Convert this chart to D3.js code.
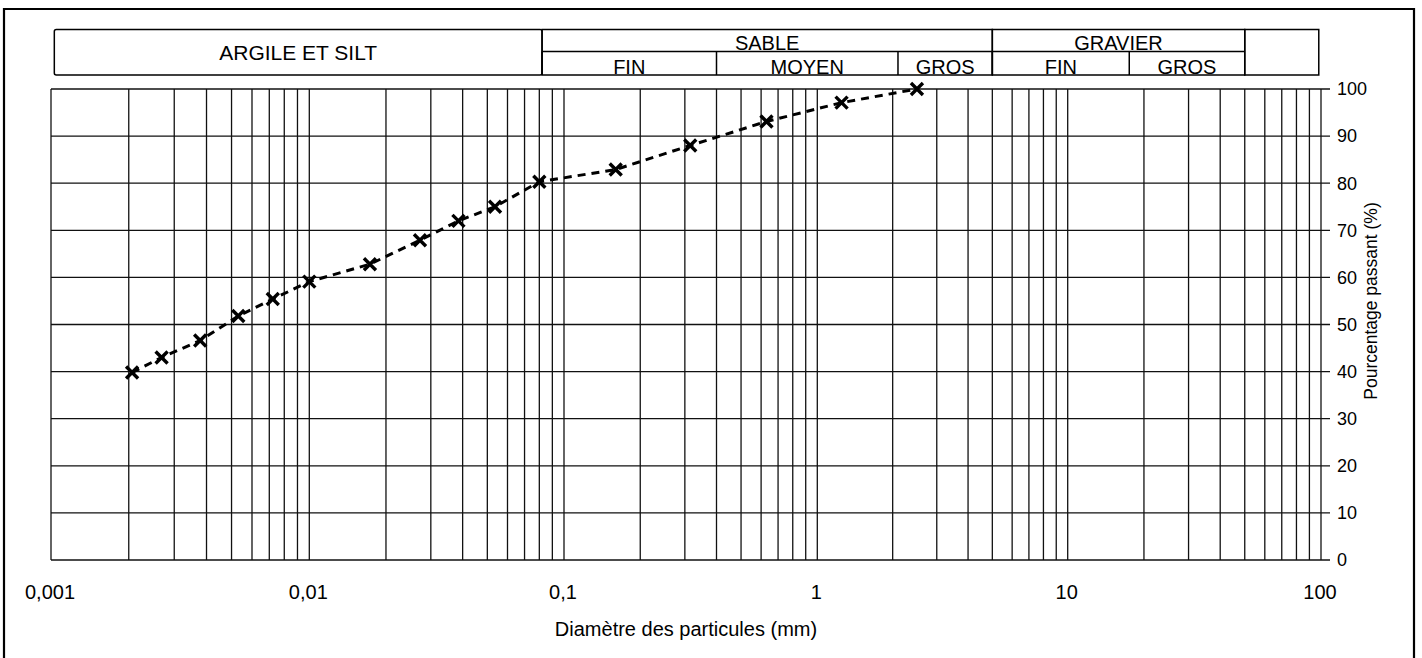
<!DOCTYPE html>
<html>
<head>
<meta charset="utf-8">
<script src="https://cdn.jsdelivr.net/npm/d3@7"></script>
<style>
  html, body { margin: 0; padding: 0; background: #fff; }
  svg { display: block; font-family: "Liberation Sans", Arial, Helvetica, sans-serif; }
</style>
</head>
<body>
<svg id="chart" width="1422" height="658"></svg>
<script>
// ---------- data ----------
const diameters = [0.00206, 0.00268, 0.00378, 0.00531, 0.00722, 0.0100, 0.0173, 0.0272, 0.0385, 0.0536, 0.080, 0.160, 0.315, 0.630, 1.25, 2.5];
const passing   = [39.8, 43.0, 46.6, 51.8, 55.4, 59.1, 62.8, 67.9, 72.0, 75.0, 80.3, 82.9, 88.0, 93.1, 97.1, 100];

const xTickValues = [0.001, 0.01, 0.1, 1, 10, 100];
const xTickLabels = ["0,001", "0,01", "0,1", "1", "10", "100"];
const yTickValues = [0, 10, 20, 30, 40, 50, 60, 70, 80, 90, 100];

const mainClasses = ["ARGILE ET SILT", "SABLE", "GRAVIER", ""];
const mainBounds  = [0.00103, 0.082, 5, 50, 98];
const subClasses  = ["FIN", "MOYEN", "GROS", "FIN", "GROS"];
const subBounds   = [0.082, 0.4, 2.1, 5, 17.5, 50];

const xTitle = "Diamètre des particules (mm)";
const yTitle = "Pourcentage passant (%)";

// ---------- layout ----------
const svg = d3.select("#chart");
const plotTop = 89, plotBottom = 560;
// per-decade positions (log scale, piecewise to follow the sheet)
const x = d3.scaleLog().domain(xTickValues).range([51, 309.3, 564, 817.3, 1067.7, 1321]);
const y = d3.scaleLinear().domain([0, 100]).range([plotBottom, plotTop]);
const xLeft = x(0.001), xRight = x(100);

// outer page frame
svg.append("path")
  .attr("d", `M4,660 L4,9 L1414,9 L1414,660`)
  .attr("fill", "none").attr("stroke", "#000").attr("stroke-width", 2.2);

// ---------- header table ----------
const hTop = 29.5, hMid = 51.5, hBot = 75;
const hdr = svg.append("g").attr("stroke", "#000").attr("fill", "none");
mainClasses.forEach((c, i) => {
  const x0 = x(mainBounds[i]), x1 = x(mainBounds[i + 1]);
  hdr.append("rect").attr("x", x0).attr("y", hTop).attr("width", x1 - x0).attr("height", hBot - hTop)
    .attr("rx", i === 0 ? 2 : 0).attr("stroke-width", 1.5);
});
hdr.append("line").attr("x1", x(subBounds[0])).attr("x2", x(subBounds[subBounds.length - 1]))
  .attr("y1", hMid).attr("y2", hMid).attr("stroke-width", 1.5);
subClasses.forEach((c, i) => {
  hdr.append("line").attr("x1", x(subBounds[i])).attr("x2", x(subBounds[i]))
    .attr("y1", hMid).attr("y2", hBot).attr("stroke-width", 1.5);
});
const ht = svg.append("g").attr("fill", "#000").attr("text-anchor", "middle").style("font-size", "20px");
ht.append("text").attr("x", (x(mainBounds[0]) + x(mainBounds[1])) / 2).attr("y", 60)
  .style("font-size", "21px").text(mainClasses[0]);
[1, 2].forEach(i => {
  ht.append("text").attr("x", (x(mainBounds[i]) + x(mainBounds[i + 1])) / 2).attr("y", 50).text(mainClasses[i]);
});
subClasses.forEach((c, i) => {
  ht.append("text").attr("x", (x(subBounds[i]) + x(subBounds[i + 1])) / 2).attr("y", 73.5).text(c);
});

// ---------- grid ----------
const grid = svg.append("g").attr("stroke", "#111").attr("stroke-width", 1.3);
x.ticks().forEach(v => {
  grid.append("line").attr("x1", x(v)).attr("x2", x(v)).attr("y1", plotTop).attr("y2", plotBottom);
});
yTickValues.forEach(v => {
  grid.append("line").attr("x1", xLeft).attr("x2", xRight + 9).attr("y1", y(v)).attr("y2", y(v));
});

// ---------- axes labels ----------
const tl = svg.append("g").attr("fill", "#000");
xTickValues.forEach((v, i) => {
  tl.append("text").attr("x", x(v) - 1).attr("y", 599).attr("text-anchor", "middle")
    .style("font-size", "20px").text(xTickLabels[i]);
});
yTickValues.forEach(v => {
  tl.append("text").attr("x", xRight + 16).attr("y", y(v)).attr("dy", "0.35em")
    .style("font-size", "18px").text(v);
});
svg.append("text").attr("x", (xLeft + xRight) / 2).attr("y", 636).attr("text-anchor", "middle")
  .style("font-size", "20px").text(xTitle);
svg.append("text").attr("transform", `translate(1377,301) rotate(-90)`).attr("text-anchor", "middle")
  .style("font-size", "17.5px").text(yTitle);

// ---------- curve ----------
const pts = diameters.map((d, i) => [d, passing[i]]);
svg.append("path").datum(pts)
  .attr("d", d3.line().x(d => x(d[0])).y(d => y(d[1])))
  .attr("fill", "none").attr("stroke", "#000").attr("stroke-width", 3)
  .attr("stroke-dasharray", "8,6");
const s = 6;
const mk = svg.append("g").attr("stroke", "#000").attr("stroke-width", 3.4);
pts.forEach(p => {
  const cx = x(p[0]), cy = y(p[1]);
  mk.append("path").attr("d", `M${cx - s},${cy - s}L${cx + s},${cy + s}M${cx - s},${cy + s}L${cx + s},${cy - s}`);
});
</script>
</body>
</html>
